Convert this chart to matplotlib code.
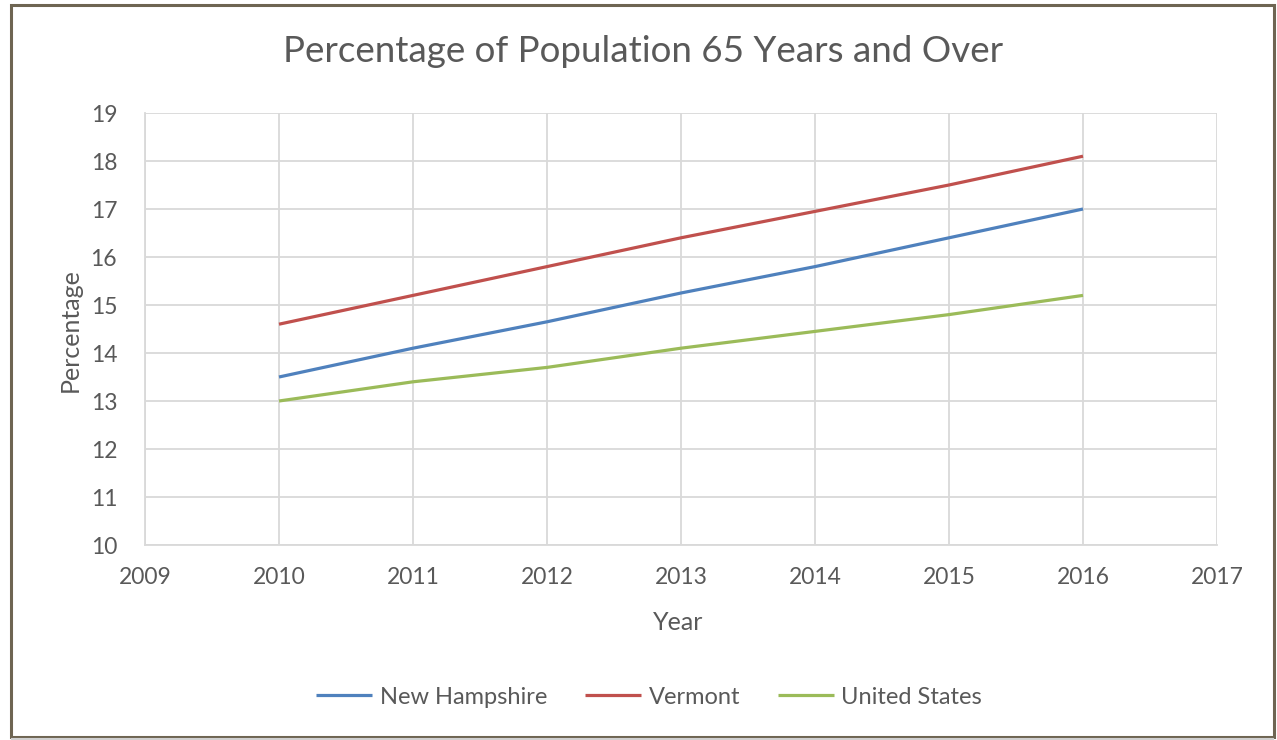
import matplotlib
matplotlib.use("Agg")
import matplotlib.pyplot as plt
from matplotlib.patches import Rectangle
from matplotlib.lines import Line2D

years = [2010, 2011, 2012, 2013, 2014, 2015, 2016]
new_hampshire = [13.5, 14.1, 14.65, 15.25, 15.8, 16.4, 17.0]
vermont = [14.6, 15.2, 15.8, 16.4, 16.95, 17.5, 18.1]
united_states = [13.0, 13.4, 13.7, 14.1, 14.45, 14.8, 15.2]
series_names = ["New Hampshire", "Vermont", "United States"]
x_ticks = list(range(2009, 2018))
y_ticks = list(range(10, 20))

plt.rcParams['font.family'] = ['Lato', 'DejaVu Sans']
W, H = 1277, 740
fig = plt.figure(figsize=(W / 100, H / 100), dpi=100)
fig.patch.set_facecolor('white')

# outer border
fig.add_artist(Rectangle((11 / W, 1 - 737 / H), (1274 - 11) / W, (737 - 5) / H,
                         transform=fig.transFigure, fill=False,
                         edgecolor='#6e6552', linewidth=2.2))
fig.add_artist(Line2D([12 / W, 1273 / W], [1 - 738.5 / H, 1 - 738.5 / H],
                      transform=fig.transFigure, color='#d0d0d0', linewidth=1.5))

ax = fig.add_axes([145 / W, 1 - 545 / H, (1217 - 145) / W, (545 - 113) / H])
colors = ['#4F81BD', '#C0504D', '#9BBB59']
for vals, name, c in zip([new_hampshire, vermont, united_states], series_names, colors):
    ax.plot(years, vals, color=c, linewidth=2.3, label=name, solid_capstyle='butt')

ax.set_xlim(2009, 2017)
ax.set_ylim(10, 19)
ax.set_xticks(x_ticks)
ax.set_yticks(y_ticks)
ax.grid(True, color='#d9d9d9', linewidth=1.3)
ax.set_axisbelow(True)
for s in ['top', 'right']:
    ax.spines[s].set_visible(False)
for s in ['left', 'bottom']:
    ax.spines[s].set_color('#d9d9d9')
    ax.spines[s].set_linewidth(1.3)
ax.tick_params(length=0, labelsize=16.5, labelcolor='#595959')
ax.tick_params(axis='x', pad=16)
ax.tick_params(axis='y', pad=20)

fig.text(643 / W, 1 - 52 / H, "Percentage of Population 65 Years and Over",
         ha='center', va='center', fontsize=26.5, color='#595959')
fig.text(70 / W, 1 - 330 / H, "Percentage", rotation=90, ha='center', va='center',
         fontsize=18, color='#595959')
fig.text(678 / W, 1 - 623 / H, "Year", ha='center', va='center',
         fontsize=18, color='#595959')

leg = fig.legend(loc='center', bbox_to_anchor=(649 / W, 1 - 697 / H), ncol=3,
                 frameon=False, fontsize=17, handlelength=2.4, handletextpad=0.3,
                 columnspacing=1.6)
for t in leg.get_texts():
    t.set_color('#595959')

fig.savefig('out.png', dpi=100, facecolor='white')
